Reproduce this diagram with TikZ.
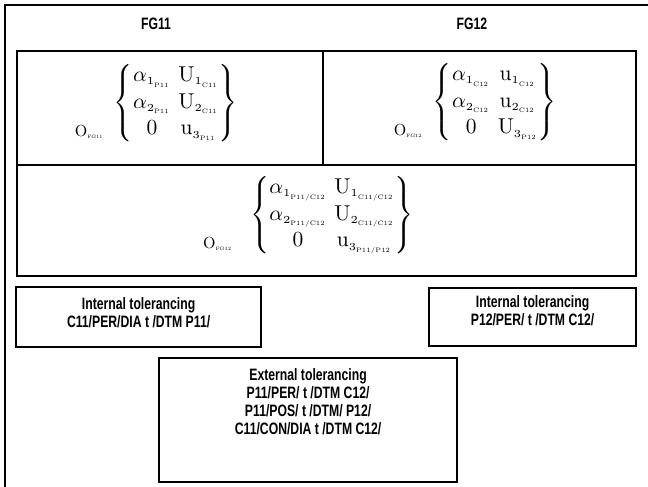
\documentclass[tikz,border=0pt]{standalone}
\usepackage[no-math]{fontspec}
\usepackage{graphicx}
\setmainfont{Liberation Sans}[FakeStretch=0.74]
\tikzset{
  frame/.style={line width=1.2pt},
  box/.style={draw, line width=2.2pt},
  lbl/.style={font=\fontsize{16.5}{18}\selectfont\bfseries, align=center, inner sep=0pt},
  mat/.style={inner sep=0pt},
  orig/.style={inner sep=0pt}
}
\newcommand{\ts}[2]{_{\scriptscriptstyle #1_{\scalebox{0.6}{$\scriptscriptstyle\mathrm{#2}$}}}}
\newcommand{\bigmat}[6]{\scalebox{2.15}{$\renewcommand{\arraystretch}{1.03}\left\{\begin{array}{@{}c@{\hspace{3.5pt}}c@{}}
 #1 & #2\\ #3 & #4\\ #5 & #6 \end{array}\right\}$}}
\begin{document}
\begin{tikzpicture}[x=1pt,y=-1pt]
\useasboundingbox (0,0) rectangle (648,487);
\coordinate (fa) at (5,487);
\coordinate (fb) at (5,5);
\coordinate (fc) at (648,5);
\draw[frame] (fa) -- (fb) -- (fc);
\node[lbl] (fg11) at (156,24) {FG11};
\node[lbl] (fg12) at (472,24) {FG12};
% top boxes
\node[box, minimum width=306pt, minimum height=114pt, anchor=north west, inner sep=0pt] (b1) at (16,50) {};
\node[box, minimum width=313pt, minimum height=114pt, anchor=north west, inner sep=0pt] (b2) at (322,50) {};
\node[box, minimum width=619pt, minimum height=111pt, anchor=north west, inner sep=0pt] (b3) at (16,164) {};
% matrices
\node[mat] (m1) at (176,103) {\bigmat{\alpha\ts{1}{P11}}{\mathrm{U}\ts{1}{C11}}{\alpha\ts{2}{P11}}{\mathrm{U}\ts{2}{C11}}{0}{\mathrm{u}\ts{3}{P11}}};
\node[orig, anchor=south east] (o1) at ([xshift=-10pt,yshift=4pt]m1.south west) {\scalebox{1.6}{$\mathrm{O}_{\scalebox{0.6}{$\scriptscriptstyle\mathrm{FG11}$}}$}};
\node[mat] (m2) at (495,102) {\bigmat{\alpha\ts{1}{C12}}{\mathrm{u}\ts{1}{C12}}{\alpha\ts{2}{C12}}{\mathrm{u}\ts{2}{C12}}{0}{\mathrm{U}\ts{3}{P12}}};
\node[orig, anchor=south east] (o2) at ([xshift=-10pt,yshift=4pt]m2.south west) {\scalebox{1.6}{$\mathrm{O}_{\scalebox{0.6}{$\scriptscriptstyle\mathrm{FG12}$}}$}};
\node[mat] (m3) at (332,215) {\bigmat{\alpha\ts{1}{P11/C12}}{\mathrm{U}\ts{1}{C11/C12}}{\alpha\ts{2}{P11/C12}}{\mathrm{U}\ts{2}{C11/C12}}{0}{\mathrm{u}\ts{3}{P11/P12}}};
\node[orig, anchor=south east] (o3) at ([xshift=-18pt,yshift=4pt]m3.south west) {\scalebox{1.6}{$\mathrm{O}_{\scalebox{0.6}{$\scriptscriptstyle\mathrm{FG12}$}}$}};
% tolerancing boxes
\node[box, minimum width=245pt, minimum height=60pt, anchor=north west, inner sep=0pt] (ib1) at (15,286) {};
\node[lbl] (t1) at ([yshift=4pt]ib1.center) {Internal tolerancing\\C11/PER/DIA t /DTM P11/};
\node[box, minimum width=207pt, minimum height=58pt, anchor=north west, inner sep=0pt] (ib2) at (428,287) {};
\node[lbl] (t2) at ([yshift=6pt]ib2.center) {Internal tolerancing\\P12/PER/ t /DTM C12/};
\node[box, minimum width=298pt, minimum height=124pt, anchor=north west, inner sep=0pt] (eb) at (158,357) {};
\node[lbl, anchor=north] (t3) at ([yshift=-11pt]eb.north) {External tolerancing\\P11/PER/ t /DTM C12/\\P11/POS/ t /DTM/ P12/\\C11/CON/DIA t /DTM C12/};
\end{tikzpicture}
\end{document}
